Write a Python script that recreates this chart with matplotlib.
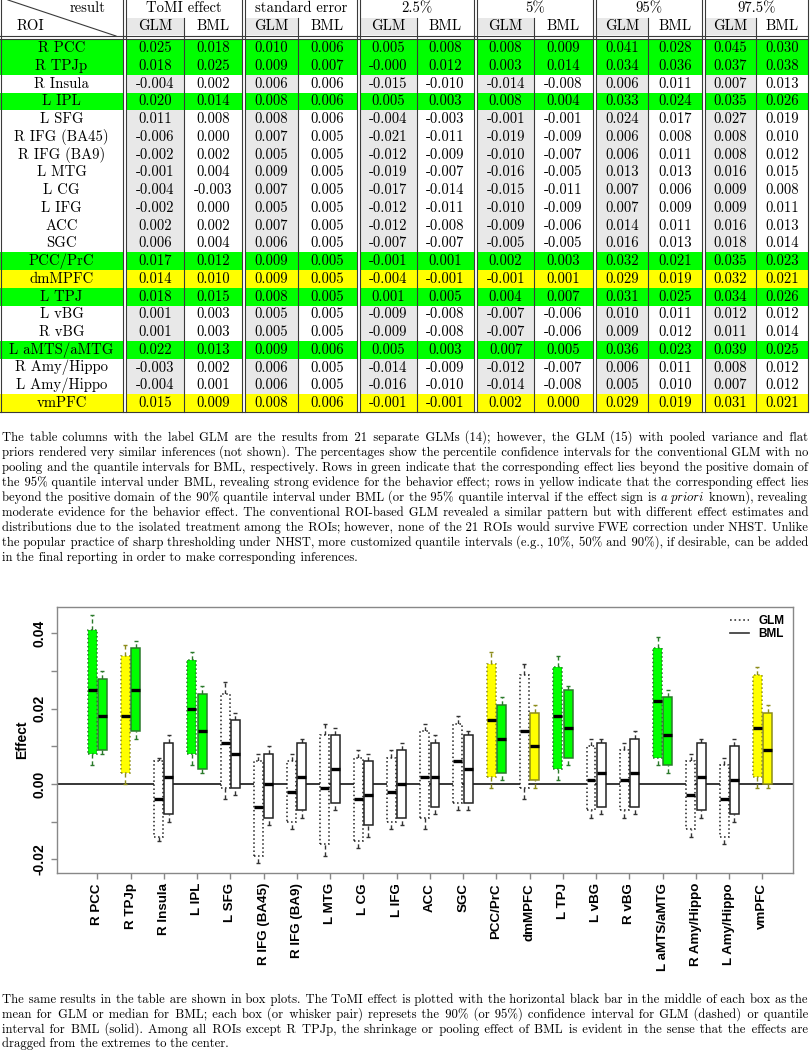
"""Table of ROI effects (GLM vs BML) with captions and the matching box plot."""

import matplotlib
matplotlib.use("Agg")
import matplotlib.pyplot as plt
from matplotlib.lines import Line2D
from matplotlib.patches import Rectangle


ROIS = [
    "R PCC", "R TPJp", "R Insula", "L IPL", "L SFG", "R IFG (BA45)", "R IFG (BA9)",
    "L MTG", "L CG", "L IFG", "ACC", "SGC", "PCC/PrC", "dmMPFC", "L TPJ", "L vBG",
    "R vBG", "L aMTS/aMTG", "R Amy/Hippo", "L Amy/Hippo", "vmPFC",
]
TOMI_GLM = [0.025, 0.018, -0.004, 0.020, 0.011, -0.006, -0.002, -0.001, -0.004, -0.002, 0.002,
            0.006, 0.017, 0.014, 0.018, 0.001, 0.001, 0.022, -0.003, -0.004, 0.015]
TOMI_BML = [0.018, 0.025, 0.002, 0.014, 0.008, 0.000, 0.002, 0.004, -0.003, 0.000, 0.002,
            0.004, 0.012, 0.010, 0.015, 0.003, 0.003, 0.013, 0.002, 0.001, 0.009]
SE_GLM = [0.010, 0.009, 0.006, 0.008, 0.008, 0.007, 0.005, 0.009, 0.007, 0.005, 0.007,
          0.006, 0.009, 0.009, 0.008, 0.005, 0.005, 0.009, 0.006, 0.006, 0.008]
SE_BML = [0.006, 0.007, 0.006, 0.006, 0.006, 0.005, 0.005, 0.005, 0.005, 0.005, 0.005,
          0.005, 0.005, 0.005, 0.005, 0.005, 0.005, 0.006, 0.005, 0.005, 0.006]
Q025_GLM = [0.005, -0.0, -0.015, 0.005, -0.004, -0.021, -0.012, -0.019, -0.017, -0.012, -0.012,
            -0.007, -0.001, -0.004, 0.001, -0.009, -0.009, 0.005, -0.014, -0.016, -0.001]
Q025_BML = [0.008, 0.012, -0.010, 0.003, -0.003, -0.011, -0.009, -0.007, -0.014, -0.011, -0.008,
            -0.007, 0.001, -0.001, 0.005, -0.008, -0.008, 0.003, -0.009, -0.010, -0.001]
Q05_GLM = [0.008, 0.003, -0.014, 0.008, -0.001, -0.019, -0.010, -0.016, -0.015, -0.010, -0.009,
           -0.005, 0.002, -0.001, 0.004, -0.007, -0.007, 0.007, -0.012, -0.014, 0.002]
Q05_BML = [0.009, 0.014, -0.008, 0.004, -0.001, -0.009, -0.007, -0.005, -0.011, -0.009, -0.006,
           -0.005, 0.003, 0.001, 0.007, -0.006, -0.006, 0.005, -0.007, -0.008, 0.000]
Q95_GLM = [0.041, 0.034, 0.006, 0.033, 0.024, 0.006, 0.006, 0.013, 0.007, 0.007, 0.014,
           0.016, 0.032, 0.029, 0.031, 0.010, 0.009, 0.036, 0.006, 0.005, 0.029]
Q95_BML = [0.028, 0.036, 0.011, 0.024, 0.017, 0.008, 0.011, 0.013, 0.006, 0.009, 0.011,
           0.013, 0.021, 0.019, 0.025, 0.011, 0.012, 0.023, 0.011, 0.010, 0.019]
Q975_GLM = [0.045, 0.037, 0.007, 0.035, 0.027, 0.008, 0.008, 0.016, 0.009, 0.009, 0.016,
            0.018, 0.035, 0.032, 0.034, 0.012, 0.011, 0.039, 0.008, 0.007, 0.031]
Q975_BML = [0.030, 0.038, 0.013, 0.026, 0.019, 0.010, 0.012, 0.015, 0.008, 0.011, 0.013,
            0.014, 0.023, 0.021, 0.026, 0.012, 0.014, 0.025, 0.012, 0.012, 0.021]

# evidence class per table row and per box: g = strong, y = moderate, w = none
ROW_CLASS = ["g", "g", "w", "g", "w", "w", "w", "w", "w", "w", "w",
             "w", "g", "y", "g", "w", "w", "g", "w", "w", "y"]
BOX_GLM = ["g", "y", "w", "g", "w", "w", "w", "w", "w", "w", "w",
           "w", "y", "w", "g", "w", "w", "g", "w", "w", "y"]
BOX_BML = ["g", "g", "w", "g", "w", "w", "w", "w", "w", "w", "w",
           "w", "g", "y", "g", "w", "w", "g", "w", "w", "y"]

GROUPS = ["ToMI effect", "standard error", "2.5%", "5%", "95%", "97.5%"]
COLUMNS = [TOMI_GLM, TOMI_BML, SE_GLM, SE_BML, Q025_GLM, Q025_BML,
           Q05_GLM, Q05_BML, Q95_GLM, Q95_BML, Q975_GLM, Q975_BML]

CAPTION_TABLE = [
    "The table columns with the label GLM are the results from 21 separate GLMs (14); however, the GLM (15) with pooled variance and flat",
    "priors rendered very similar inferences (not shown). The percentages show the percentile confidence intervals for the conventional GLM with no",
    "pooling and the quantile intervals for BML, respectively. Rows in green indicate that the corresponding effect lies beyond the positive domain of",
    "the 95% quantile interval under BML, revealing strong evidence for the behavior effect; rows in yellow indicate that the corresponding effect lies",
    "beyond the positive domain of the 90% quantile interval under BML (or the 95% quantile interval if the effect sign is a_priori known), revealing",
    "moderate evidence for the behavior effect. The conventional ROI-based GLM revealed a similar pattern but with different effect estimates and",
    "distributions due to the isolated treatment among the ROIs; however, none of the 21 ROIs would survive FWE correction under NHST. Unlike",
    "the popular practice of sharp thresholding under NHST, more customized quantile intervals (e.g., 10%, 50% and 90%), if desirable, can be added",
    "in the final reporting in order to make corresponding inferences.",
]
CAPTION_PLOT = [
    "The same results in the table are shown in box plots. The ToMI effect is plotted with the horizontal black bar in the middle of each box as the",
    "mean for GLM or median for BML; each box (or whisker pair) represets the 90% (or 95%) confidence interval for GLM (dashed) or quantile",
    "interval for BML (solid). Among all ROIs except R TPJp, the shrinkage or pooling effect of BML is evident in the sense that the effects are",
    "dragged from the extremes to the center.",
]

FILL = {"g": "#00ff00", "y": "#ffff00", "w": "white"}
EDGE = {"g": "#2a7a2a", "y": "#8c8c1a", "w": "#333333"}
SERIF = "cmr10"
SANS = "Liberation Sans"
HAIR = "\u200a"
ITALIC = r"$\mathit{a\ priori}$"

plt.rcParams["mathtext.fontset"] = "cm"


def draw_paragraph(ax, lines, x0, x1, y0, step, size):
    """Justified lines: one text per line, word gaps made of hair spaces."""
    renderer = ax.figure.canvas.get_renderer()
    fam = [SERIF, "DejaVu Serif"]

    def width(s):
        t = ax.text(0, 0, s, fontsize=size, family=fam)
        w = t.get_window_extent(renderer).width
        t.remove()
        return w

    hair = (width("a" + HAIR * 20 + "b") - width("ab")) / 20
    space = width("a b") - width("ab")
    for k, line in enumerate(lines):
        words = line.split(" ")
        y = y0 + k * step
        ws = [width(ITALIC if w == "a_priori" else w) for w in words]
        n = len(words) - 1
        gap = space if k == len(lines) - 1 else (x1 - x0 - sum(ws)) / n
        counts = [round((i + 1) * gap / hair) - round(i * gap / hair) for i in range(n)]
        starts = [x0 + sum(ws[:i]) + sum(counts[:i]) * hair for i in range(len(words))]

        seg, seg_start = [], 0
        for i, w in enumerate(words):
            if w == "a_priori":
                if seg:
                    ax.text(starts[seg_start], y, seg_text(seg, counts, seg_start), fontsize=size,
                            family=fam, va="baseline")
                ax.text(starts[i], y, ITALIC, fontsize=size, va="baseline")
                seg, seg_start = [], i + 1
            else:
                seg.append(w)
        if seg:
            ax.text(starts[seg_start], y, seg_text(seg, counts, seg_start), fontsize=size,
                    family=fam, va="baseline")


def seg_text(seg, counts, first):
    out = seg[0]
    for j, w in enumerate(seg[1:]):
        out += HAIR * counts[first + j] + w
    return out


def draw_table(ax):
    left = [125.8, 244.7, 359.7, 477.0, 595.7, 704.7]
    split = [184.3, 298.0, 417.0, 534.3, 648.3, 756.0]
    right = [241.7, 356.7, 474.0, 592.7, 701.7, 808.3]
    top, row_h, n = 39.3, 17.75, len(ROIS)
    bottom = top + n * row_h
    line_kw = {"color": "#3a3a3a", "linewidth": 0.8}

    # header shading for the GLM columns
    for gl, sp in zip(left, split):
        ax.add_patch(Rectangle((gl + 1, 18.0), sp - gl - 1.5, 16.5, color="#e8e8e8", lw=0))
    for i in range(n):
        y0 = top + i * row_h
        cls = ROW_CLASS[i]
        if cls != "w":
            ax.add_patch(Rectangle((0, y0), 122.8, row_h, color=FILL[cls], lw=0))
            for gl, gr in zip(left, right):
                ax.add_patch(Rectangle((gl, y0), gr - gl, row_h, color=FILL[cls], lw=0))
        else:
            for gl, sp in zip(left, split):
                ax.add_patch(Rectangle((gl + 1, y0), sp - gl - 1.5, row_h, color="#e8e8e8", lw=0))

    # rules
    for xv in [0.5, 808.3]:
        ax.plot([xv, xv], [0, bottom], **line_kw)
    for xv in [122.8] + [gr for gr in right[:-1]]:
        ax.plot([xv, xv], [0, bottom], **line_kw)
        ax.plot([xv + 3, xv + 3], [0, bottom], **line_kw)
    for sp in split:
        ax.plot([sp, sp], [17.5, bottom], **line_kw)
    ax.plot([0, 808.3], [35.8, 35.8], **line_kw)
    ax.plot([0, 808.3], [38.6, 38.6], **line_kw)
    ax.plot([0, 808.3], [bottom, bottom], **line_kw)
    ax.plot([8, 116], [0, 36], **line_kw)

    size = 10.6
    ax.text(106, 8.5, "result", ha="right", va="center", fontsize=size, family=SERIF)
    ax.text(17, 26.5, "ROI", ha="left", va="center", fontsize=size, family=SERIF)
    for g, gl, sp, gr in zip(GROUPS, left, split, right):
        ax.text((gl + gr) / 2, 8.5, g, ha="center", va="center", fontsize=size, family=SERIF)
        ax.text((gl + sp) / 2, 26.5, "GLM", ha="center", va="center", fontsize=size, family=SERIF)
        ax.text((sp + gr) / 2, 26.5, "BML", ha="center", va="center", fontsize=size, family=SERIF)
    for i, roi in enumerate(ROIS):
        yc = top + (i + 0.5) * row_h
        ax.text(61.5, yc, roi, ha="center", va="center", fontsize=size, family=SERIF)
        for j, col in enumerate(COLUMNS):
            g = j // 2
            xc = (left[g] + split[g]) / 2 if j % 2 == 0 else (split[g] + right[g]) / 2
            ax.text(xc, yc, f"{col[i]:.3f}", ha="center", va="center", fontsize=size, family=SERIF)


def draw_boxes(ax):
    width = 0.27
    sets = [
        (-0.155, TOMI_GLM, Q025_GLM, Q05_GLM, Q95_GLM, Q975_GLM, BOX_GLM, ":"),
        (0.155, TOMI_BML, Q025_BML, Q05_BML, Q95_BML, Q975_BML, BOX_BML, "-"),
    ]
    for offset, mid, lo2, lo, hi, hi2, classes, style in sets:
        for i in range(len(ROIS)):
            x = i + 1 + offset
            cls = classes[i]
            ax.vlines(x, hi[i], hi2[i], color=EDGE[cls], linestyle=(0, (3, 2)), lw=1.0, zorder=2)
            ax.vlines(x, lo2[i], lo[i], color=EDGE[cls], linestyle=(0, (3, 2)), lw=1.0, zorder=2)
            ax.hlines([lo2[i], hi2[i]], x - 0.06, x + 0.06, color=EDGE[cls], lw=1.0, zorder=2)
            ax.bar(x, hi[i] - lo[i], bottom=lo[i], width=width, color=FILL[cls],
                   edgecolor=EDGE[cls] if cls != "w" else "#222222", linestyle=style,
                   linewidth=1.1, zorder=3)
            ax.hlines(mid[i], x - width / 2, x + width / 2, color="black", lw=2.4, zorder=4)


def main() -> None:
    fig = plt.figure(figsize=(8.1, 10.5), dpi=100)
    page = fig.add_axes([0, 0, 1, 1])
    page.set_xlim(0, 810)
    page.set_ylim(1050, 0)
    page.axis("off")

    draw_table(page)
    draw_paragraph(page, CAPTION_TABLE, 2, 808, 441, 15.0, 9.1)
    draw_paragraph(page, CAPTION_PLOT, 2, 808, 1003, 14.7, 9.1)

    ax = fig.add_axes([56.7 / 810, 1 - 873.3 / 1050, 736.0 / 810, 266.6 / 1050])
    draw_boxes(ax)
    ax.axhline(0, color="black", lw=1.1, zorder=1)
    ax.set_xlim(-0.22, 21.91)
    ax.set_ylim(-0.0237, 0.0471)

    ax.set_xticks(range(1, len(ROIS) + 1))
    ax.set_xticklabels(ROIS, rotation=90, fontsize=9.6, fontweight="bold", family=SANS)
    ax.set_yticks([-0.02, -0.01, 0.0, 0.01, 0.02, 0.03, 0.04])
    ax.set_yticklabels(["-0.02", "", "0.00", "", "0.02", "", "0.04"], rotation=90, va="center",
                       fontsize=10, fontweight="bold", family=SANS)
    ax.tick_params(direction="out", length=4, width=1, color="#888888", pad=3)
    ax.set_ylabel("Effect", fontsize=10, fontweight="bold", family=SANS, labelpad=3)
    for spine in ax.spines.values():
        spine.set_color("#888888")
        spine.set_linewidth(1.0)

    handles = [Line2D([0], [0], color="#333333", lw=1.2, linestyle=":"),
               Line2D([0], [0], color="#333333", lw=1.2, linestyle="-")]
    ax.legend(handles, ["GLM", "BML"], loc="upper right", frameon=False, handlelength=1.6,
              labelspacing=0.1, borderaxespad=0.3, prop={"family": SANS, "weight": "bold", "size": 8.5})

    fig.savefig("out.png", dpi=100)
    plt.close(fig)


if __name__ == "__main__":
    main()
